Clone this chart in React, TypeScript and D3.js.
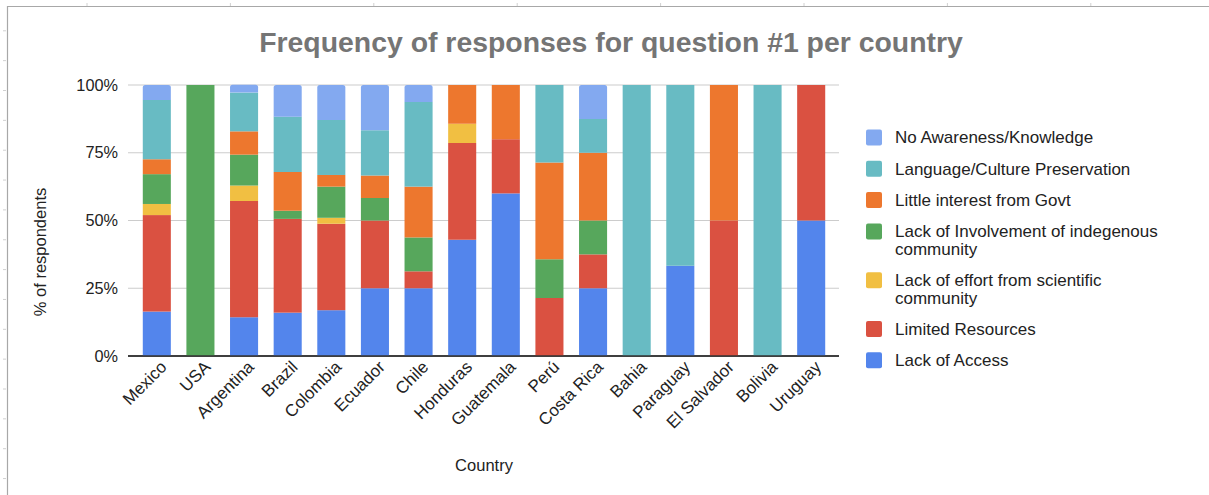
import React from 'react';
import * as d3 from 'd3';

const countries = ['Mexico', 'USA', 'Argentina', 'Brazil', 'Colombia', 'Ecuador', 'Chile', 'Honduras', 'Guatemala', 'Perú', 'Costa Rica', 'Bahia', 'Paraguay', 'El Salvador', 'Bolivia', 'Uruguay'];

const seriesNames = [
  'Lack of Access',
  'Limited Resources',
  'Lack of effort from scientific community',
  'Lack of Involvement of indegenous community',
  'Little interest from Govt',
  'Language/Culture Preservation',
  'No Awareness/Knowledge',
];
const seriesColors = ['#5385EC', '#DA5141', '#F1BF42', '#57A75C', '#ED772E', '#68BBC3', '#83A9F0'];

const lackOfAccess = [16.4, 0, 14.3, 16.0, 16.9, 25, 25, 42.9, 60, 0, 25, 0, 33.3, 0, 0, 50];
const limitedResources = [35.6, 0, 42.9, 34.6, 31.9, 25, 6.25, 35.7, 20, 21.4, 12.5, 0, 0, 50, 0, 50];
const lackOfEffort = [4.1, 0, 5.7, 0, 2.2, 0, 0, 7.1, 0, 0, 0, 0, 0, 0, 0, 0];
const lackOfInvolvement = [11.0, 100, 11.4, 3.0, 11.5, 8.3, 12.5, 0, 0, 14.3, 12.5, 0, 0, 0, 0, 0];
const littleInterest = [5.5, 0, 8.6, 14.3, 4.3, 8.3, 18.75, 14.3, 20, 35.7, 25, 0, 0, 50, 0, 0];
const languageCulture = [21.9, 0, 14.3, 20.4, 20.3, 16.7, 31.25, 0, 0, 28.6, 12.5, 100, 66.7, 0, 100, 0];
const noAwareness = [5.5, 0, 2.9, 11.7, 12.9, 16.7, 6.25, 0, 0, 0, 12.5, 0, 0, 0, 0, 0];

const yTicks = [0, 25, 50, 75, 100];

const title = 'Frequency of responses for question #1 per country';
const xTitle = 'Country';
const yTitle = '% of respondents';

const W = 1209;
const H = 495;
const FONT = "Arial, 'Liberation Sans', Helvetica, sans-serif";

function wrap(text: string, maxW: number, font: string): string[] {
  const ctx = document.createElement('canvas').getContext('2d');
  if (!ctx) return [text];
  ctx.font = font;
  const words = text.split(' ');
  const lines: string[] = [];
  let cur = '';
  for (const w of words) {
    const t = cur ? cur + ' ' + w : w;
    if (ctx.measureText(t).width > maxW && cur) {
      lines.push(cur);
      cur = w;
    } else cur = t;
  }
  if (cur) lines.push(cur);
  return lines;
}

export default function App() {
  const seriesValues = [lackOfAccess, limitedResources, lackOfEffort, lackOfInvolvement, littleInterest, languageCulture, noAwareness];
  const rows = countries.map((c, i) => {
    const r: any = { country: c };
    seriesNames.forEach((s, k) => (r[s] = seriesValues[k][i]));
    return r;
  });
  const stacked = d3.stack<any>().keys(seriesNames)(rows);

  const x = d3.scaleBand<string>().domain(countries).range([135, 833]).paddingInner(0.357).paddingOuter(0.1785);
  const y = d3.scaleLinear().domain([0, 100]).range([356, 85]);
  const plotL = 128;
  const plotR = 839;

  const leftTicks = d3.range(0, 17).map((k) => 30.8 + 29.85 * k);
  const topTicks = d3.range(0, 9).map((k) => 87 + 143.4 * k);

  const legendFont = `17px ${FONT}`;
  const legendItems = [...seriesNames].map((n, i) => ({ name: n, color: seriesColors[i] })).reverse();
  let ly = 137.5;
  const legendLayout = legendItems.map((it) => {
    const lines = wrap(it.name, 278, legendFont);
    const entry = { ...it, lines, y: ly };
    ly += (lines.length - 1) * 17.5 + 31.3;
    return entry;
  });

  const topIdx = seriesNames.length - 1;

  return (
    <svg width={W} height={H} style={{ position: 'absolute', left: 0, top: 0, background: '#fff' }} fontFamily={FONT}>
      <rect x={0} y={0} width={W} height={H} fill="#fff" />
      {leftTicks.map((t, i) => (
        <line key={'lt' + i} x1={3} x2={6} y1={t} y2={t} stroke="#d0d0d0" strokeWidth={1} />
      ))}
      {topTicks.map((t, i) => (
        <line key={'tt' + i} x1={t} x2={t} y1={3} y2={6} stroke="#d0d0d0" strokeWidth={1} />
      ))}
      <path d={`M7.5,${H} V6.5 H${W}`} fill="none" stroke="#a8a8a8" strokeWidth={1.2} />

      <text x={611} y={52} textAnchor="middle" fontSize={28.4} fontWeight="bold" fill="#757575">{title}</text>

      {yTicks.map((t) => (
        <g key={'g' + t}>
          <line x1={plotL} x2={plotR} y1={y(t)} y2={y(t)} stroke={t === 0 ? '#333' : '#cccccc'} strokeWidth={t === 0 ? 1.3 : 1.2} />
          <text x={118} y={y(t)} dy="0.35em" textAnchor="end" fontSize={16.3} fill="#222">{`${t}%`}</text>
        </g>
      ))}

      {stacked.map((s, k) => (
        <g key={s.key} fill={seriesColors[k]}>
          {s.map((d, i) => {
            const h = y(d[0]) - y(d[1]);
            if (h <= 0.01) return null;
            const x0 = x(countries[i]) as number;
            const bw = x.bandwidth();
            if (k === topIdx) {
              const r = 2.5;
              const yt = y(d[1]);
              const yb = y(d[0]);
              const p = `M${x0},${yb} V${yt + r} Q${x0},${yt} ${x0 + r},${yt} H${x0 + bw - r} Q${x0 + bw},${yt} ${x0 + bw},${yt + r} V${yb} Z`;
              return <path key={i} d={p} />;
            }
            return <rect key={i} x={x0} y={y(d[1])} width={bw} height={h} />;
          })}
        </g>
      ))}
      <line x1={plotL} x2={plotR} y1={y(0)} y2={y(0)} stroke="#333" strokeWidth={1.3} />

      {countries.map((c) => {
        const cx = (x(c) as number) + x.bandwidth() / 2;
        return (
          <text key={c} transform={`translate(${cx + 11},${y(0) + 12}) rotate(-45)`} textAnchor="end" fontSize={17} fill="#222">{c}</text>
        );
      })}

      <text x={484} y={471} textAnchor="middle" fontSize={16.5} fill="#222">{xTitle}</text>
      <text transform={`translate(46,252) rotate(-90)`} textAnchor="middle" fontSize={16.5} fill="#222">{yTitle}</text>

      {legendLayout.map((it) => (
        <g key={it.name}>
          <rect x={866} y={it.y - 8} width={16} height={16} rx={2} fill={it.color} />
          {it.lines.map((ln, j) => (
            <text key={j} x={895} y={it.y + j * 17.5} dy="0.35em" fontSize={17} fill="#222">{ln}</text>
          ))}
        </g>
      ))}
    </svg>
  );
}
